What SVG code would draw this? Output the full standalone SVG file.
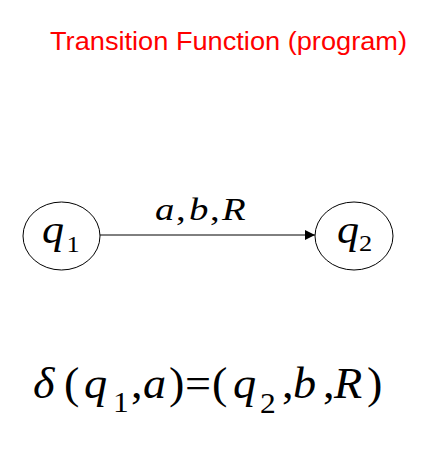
<svg xmlns="http://www.w3.org/2000/svg" width="429" height="458" viewBox="0 0 429 458">
<style>
.node{fill:#fff;stroke:#000;stroke-width:1}
.m{font-family:"Liberation Serif","Times New Roman",serif;font-style:italic;fill:#000}
.up{font-style:normal}
.title{font-family:"Liberation Sans",Arial,sans-serif;font-size:25px;fill:#ff0000}
</style>
<defs>
<marker id="arr" viewBox="0 0 10 10" refX="10" refY="5" markerWidth="10" markerHeight="10" markerUnits="userSpaceOnUse" orient="auto">
<path d="M0,0 L10,5 L0,10 z" fill="#000"/>
</marker>
</defs>
<rect width="429" height="458" fill="#fff"/>
<text class="title" x="50" y="50" textLength="357" lengthAdjust="spacingAndGlyphs">Transition Function (program)</text>
<g id="connectors">
<line x1="100" y1="235" x2="315" y2="235" stroke="#000" stroke-width="1" marker-end="url(#arr)"/>
<text class="m" font-size="31" transform="scale(1.25,1)" y="220"><tspan x="124">a</tspan><tspan class="up" x="140.8">,</tspan><tspan x="151.2">b</tspan><tspan class="up" x="168">,</tspan><tspan x="177.6">R</tspan></text>
</g>
<g id="q1">
<ellipse class="node" cx="61.5" cy="236" rx="38.5" ry="34"/>
<text class="m" font-size="40" transform="scale(1.1,1)"><tspan x="38.2" y="243">q</tspan><tspan class="up" font-size="24" x="60.5" y="252">1</tspan></text>
</g>
<g id="q2">
<ellipse class="node" cx="354" cy="236" rx="39" ry="34"/>
<text class="m" font-size="40" transform="scale(1.1,1)"><tspan x="306.4" y="243">q</tspan><tspan class="up" font-size="24" x="326.4" y="251">2</tspan></text>
</g>
<g id="equation">
<text class="m" font-size="44" transform="scale(1.05,1)" y="398"><tspan x="31.4">δ</tspan><tspan class="up" x="61">(</tspan><tspan x="80">q</tspan><tspan class="up" font-size="30" x="107.6" y="412">1</tspan><tspan class="up" x="124.8" y="398">,</tspan><tspan x="136.2">a</tspan><tspan class="up" x="161">)</tspan><tspan class="up" x="176.2">=</tspan><tspan class="up" x="201.9">(</tspan><tspan x="221.9">q</tspan><tspan class="up" font-size="30" x="247.6" y="413">2</tspan><tspan class="up" x="268.6" y="398">,</tspan><tspan x="279">b</tspan><tspan class="up" x="307.6">,</tspan><tspan x="318.1">R</tspan><tspan class="up" x="349.5">)</tspan></text>
</g>
</svg>
